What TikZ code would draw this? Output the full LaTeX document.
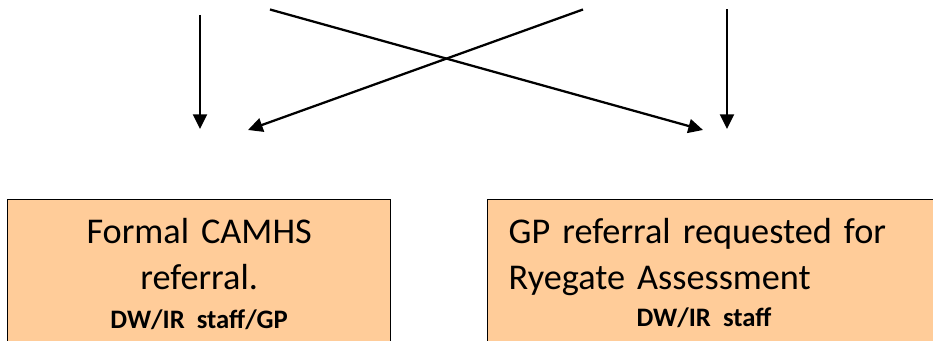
\documentclass[tikz,border=0pt]{standalone}
\usepackage{fontspec}
\setmainfont{Carlito}
\usetikzlibrary{arrows.meta}
\definecolor{boxpeach}{HTML}{FFCC99}

\begin{document}
\begin{tikzpicture}[x=0.75pt, y=-0.75pt, >={Triangle[width=10.5pt,length=11pt]},
        flow/.style={->, line width=1.7pt},
        box/.style={draw, line width=1pt, fill=boxpeach, anchor=north west, inner xsep=15.75pt, inner ysep=7.2pt, font=\fontsize{27.2}{34.3}\selectfont}]
            % Page
            \useasboundingbox (0,0) rectangle (933,341);
            \clip (0,0) rectangle (933,341);

            % Boxes
            \node[box, text width=255.75pt, align=center] (camhs) at (7,199) {\rule{0pt}{26pt}Formal CAMHS\\referral.\\[-4.8pt]{\fontsize{20}{20}\selectfont\bfseries DW/IR staff/GP\rule[-20pt]{0pt}{20pt}}};
            \node[box, text width=323pt, align=left] (ryegate) at (487,199) {\rule{0pt}{26pt}GP referral requested for\\Ryegate Assessment\\[-6.8pt]\hspace*{96pt}{\fontsize{20}{20}\selectfont\bfseries DW/IR staff\rule[-20pt]{0pt}{20pt}}};

            % Arrow ends
            \coordinate (lefttop) at (200,15);
            \coordinate (leftend) at (200,129);
            \coordinate (righttop) at (727,9.5);
            \coordinate (rightend) at (727,129);
            \coordinate (crossatop) at (270,9.5);
            \coordinate (crossaend) at (703,130);
            \coordinate (crossbtop) at (583,9.5);
            \coordinate (crossbend) at (248,130);

            % Arrows
            \draw[flow] (lefttop) -- (leftend);
            \draw[flow] (righttop) -- (rightend);
            \draw[flow] (crossatop) -- (crossaend);
            \draw[flow] (crossbtop) -- (crossbend);
\end{tikzpicture}
\end{document}
